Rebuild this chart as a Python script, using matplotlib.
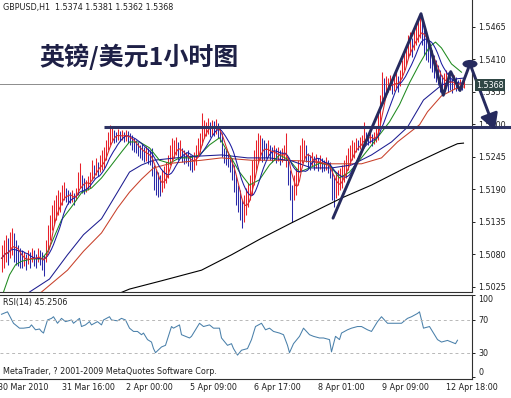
import numpy as np
import pandas as pd
import matplotlib
matplotlib.use('Agg')
import matplotlib.pyplot as plt
from matplotlib.patches import Ellipse
from matplotlib.transforms import blended_transform_factory

# ---------------- data (hourly GBPUSD bars) ----------------
highs = [
    1.5096, 1.5104, 1.5113, 1.5107, 1.5118, 1.5124, 1.5116, 1.5104, 1.5096, 1.5091,
    1.5087, 1.5084, 1.5080, 1.5087, 1.5084, 1.5091, 1.5087, 1.5080, 1.5091, 1.5087,
    1.5084, 1.5079, 1.5104, 1.5129, 1.5146, 1.5163, 1.5172, 1.5180, 1.5189, 1.5185,
    1.5197, 1.5202, 1.5192, 1.5189, 1.5185, 1.5189, 1.5184, 1.5192, 1.5219, 1.5234,
    1.5214, 1.5209, 1.5206, 1.5212, 1.5219, 1.5239, 1.5231, 1.5243, 1.5236, 1.5248,
    1.5256, 1.5261, 1.5273, 1.5287, 1.5299, 1.5295, 1.5290, 1.5287, 1.5292, 1.5289,
    1.5290, 1.5287, 1.5290, 1.5289, 1.5285, 1.5282, 1.5277, 1.5273, 1.5270, 1.5265,
    1.5266, 1.5261, 1.5263, 1.5260, 1.5256, 1.5260, 1.5231, 1.5223, 1.5219, 1.5214,
    1.5223, 1.5229, 1.5236, 1.5248, 1.5265, 1.5277, 1.5273, 1.5278, 1.5270, 1.5273,
    1.5260, 1.5256, 1.5253, 1.5256, 1.5248, 1.5246, 1.5253, 1.5265, 1.5277, 1.5285,
    1.5319, 1.5307, 1.5304, 1.5310, 1.5304, 1.5307, 1.5305, 1.5309, 1.5302, 1.5294,
    1.5285, 1.5260, 1.5256, 1.5253, 1.5248, 1.5243, 1.5231, 1.5214, 1.5197, 1.5189,
    1.5172, 1.5180, 1.5192, 1.5200, 1.5214, 1.5239, 1.5256, 1.5273, 1.5285, 1.5282,
    1.5277, 1.5273, 1.5268, 1.5273, 1.5265, 1.5261, 1.5265, 1.5260, 1.5261, 1.5256,
    1.5260, 1.5265, 1.5285, 1.5245, 1.5223, 1.5197, 1.5214, 1.5226, 1.5239, 1.5265,
    1.5277, 1.5273, 1.5265, 1.5251, 1.5248, 1.5253, 1.5246, 1.5250, 1.5243, 1.5248,
    1.5243, 1.5239, 1.5245, 1.5239, 1.5236, 1.5226, 1.5214, 1.5219, 1.5223, 1.5226,
    1.5231, 1.5239, 1.5248, 1.5260, 1.5265, 1.5273, 1.5270, 1.5277, 1.5273, 1.5278,
    1.5282, 1.5304, 1.5287, 1.5285, 1.5289, 1.5283, 1.5287, 1.5294, 1.5324, 1.5349,
    1.5388, 1.5378, 1.5382, 1.5378, 1.5383, 1.5375, 1.5380, 1.5388, 1.5382, 1.5392,
    1.5409, 1.5422, 1.5434, 1.5451, 1.5456, 1.5446, 1.5463, 1.5468, 1.5476, 1.5485,
    1.5473, 1.5459, 1.5456, 1.5443, 1.5434, 1.5426, 1.5417, 1.5409, 1.5400, 1.5392,
    1.5383, 1.5387, 1.5392, 1.5388, 1.5382, 1.5378, 1.5383, 1.5380, 1.5375, 1.5377,
    1.5373, 1.5381,
]
lows = [
    1.5050, 1.5057, 1.5067, 1.5062, 1.5074, 1.5079, 1.5067, 1.5062, 1.5060, 1.5057,
    1.5057, 1.5060, 1.5053, 1.5063, 1.5057, 1.5067, 1.5060, 1.5057, 1.5067, 1.5062,
    1.5053, 1.5043, 1.5067, 1.5087, 1.5104, 1.5121, 1.5129, 1.5138, 1.5146, 1.5151,
    1.5163, 1.5172, 1.5168, 1.5165, 1.5167, 1.5168, 1.5163, 1.5172, 1.5180, 1.5192,
    1.5184, 1.5182, 1.5185, 1.5189, 1.5192, 1.5206, 1.5209, 1.5214, 1.5212, 1.5219,
    1.5223, 1.5226, 1.5239, 1.5256, 1.5265, 1.5270, 1.5268, 1.5270, 1.5273, 1.5272,
    1.5273, 1.5270, 1.5272, 1.5268, 1.5265, 1.5256, 1.5253, 1.5251, 1.5246, 1.5243,
    1.5239, 1.5236, 1.5238, 1.5233, 1.5231, 1.5212, 1.5189, 1.5180, 1.5177, 1.5178,
    1.5185, 1.5192, 1.5200, 1.5209, 1.5231, 1.5239, 1.5243, 1.5248, 1.5239, 1.5243,
    1.5236, 1.5233, 1.5234, 1.5229, 1.5223, 1.5219, 1.5223, 1.5231, 1.5245, 1.5253,
    1.5265, 1.5277, 1.5280, 1.5283, 1.5278, 1.5282, 1.5280, 1.5283, 1.5277, 1.5270,
    1.5245, 1.5234, 1.5231, 1.5228, 1.5219, 1.5206, 1.5185, 1.5163, 1.5151, 1.5138,
    1.5124, 1.5135, 1.5146, 1.5160, 1.5172, 1.5180, 1.5197, 1.5223, 1.5234, 1.5239,
    1.5236, 1.5239, 1.5243, 1.5245, 1.5239, 1.5236, 1.5239, 1.5234, 1.5238, 1.5231,
    1.5236, 1.5239, 1.5228, 1.5197, 1.5172, 1.5135, 1.5172, 1.5180, 1.5197, 1.5219,
    1.5234, 1.5239, 1.5236, 1.5226, 1.5223, 1.5229, 1.5223, 1.5226, 1.5221, 1.5224,
    1.5219, 1.5221, 1.5223, 1.5217, 1.5209, 1.5172, 1.5160, 1.5175, 1.5180, 1.5189,
    1.5192, 1.5202, 1.5209, 1.5223, 1.5231, 1.5239, 1.5243, 1.5253, 1.5256, 1.5258,
    1.5260, 1.5265, 1.5266, 1.5265, 1.5268, 1.5263, 1.5266, 1.5270, 1.5273, 1.5299,
    1.5341, 1.5344, 1.5351, 1.5355, 1.5358, 1.5351, 1.5356, 1.5361, 1.5355, 1.5365,
    1.5378, 1.5392, 1.5400, 1.5412, 1.5417, 1.5414, 1.5426, 1.5434, 1.5439, 1.5446,
    1.5434, 1.5417, 1.5409, 1.5405, 1.5395, 1.5388, 1.5378, 1.5371, 1.5366, 1.5355,
    1.5349, 1.5358, 1.5361, 1.5355, 1.5358, 1.5353, 1.5360, 1.5356, 1.5358, 1.5360,
    1.5358, 1.5362,
]

# moving averages (bar index, price)
ma_green_bar = [1, 4, 7, 10, 15, 20, 23, 25, 30, 35, 40, 45, 50, 55, 60, 64, 69, 74, 79, 84,
                89, 94, 99, 104, 109, 114, 119, 124, 129, 134, 139, 144, 149, 154, 159, 164,
                169, 174, 179, 184, 189, 194, 199, 204, 209, 214, 217, 220, 225, 230]
ma_green_val = [1.5016, 1.5045, 1.5062, 1.5068, 1.5072, 1.5072, 1.5084, 1.5099, 1.5138, 1.5160,
                1.5184, 1.5192, 1.5209, 1.5231, 1.5253, 1.5270, 1.5270, 1.5260, 1.5239, 1.5234,
                1.5243, 1.5243, 1.5248, 1.5265, 1.5277, 1.5248, 1.5219, 1.5197, 1.5206, 1.5231,
                1.5248, 1.5239, 1.5219, 1.5226, 1.5234, 1.5231, 1.5209, 1.5219, 1.5239, 1.5260,
                1.5282, 1.5304, 1.5333, 1.5370, 1.5402, 1.5431, 1.5439, 1.5429, 1.5402, 1.5388]
ma_slow_blue_bar = [14, 24, 33, 41, 50, 58, 64, 70, 76, 93, 110, 123, 134, 145, 155, 165,
                    175, 185, 195, 203, 211, 220, 228, 231]
ma_slow_blue_val = [1.5016, 1.5038, 1.5079, 1.5113, 1.5140, 1.5185, 1.5219, 1.5231, 1.5239,
                    1.5245, 1.5248, 1.5243, 1.5243, 1.5238, 1.5226, 1.5226, 1.5231, 1.5248,
                    1.5270, 1.5295, 1.5341, 1.5366, 1.5377, 1.5378]
ma_slow_red_bar = [20, 33, 41, 50, 58, 64, 70, 76, 85, 100, 110, 125, 140, 150, 165, 180,
                   190, 198, 209, 213, 220, 227, 231]
ma_slow_red_val = [1.5016, 1.5053, 1.5085, 1.5116, 1.5158, 1.5185, 1.5207, 1.5226, 1.5234,
                   1.5239, 1.5243, 1.5239, 1.5239, 1.5238, 1.5233, 1.5233, 1.5243, 1.5270,
                   1.5299, 1.5321, 1.5348, 1.5360, 1.5363]
ma_black_bar = [59, 64, 80, 100, 115, 130, 145, 161, 170, 185, 203, 220, 228, 231]
ma_black_val = [1.5014, 1.5021, 1.5035, 1.5053, 1.5079, 1.5107, 1.5133, 1.5160, 1.5175,
                1.5197, 1.5228, 1.5255, 1.5267, 1.5268]

# RSI(14)
rsi_bar = [0, 3, 6, 9, 11, 14, 15, 17, 19, 20,
           21, 23, 25, 26, 28, 30, 32, 35, 36, 39,
           40, 42, 44, 45, 48, 50, 51, 54, 55, 58,
           60, 62, 64, 66, 68, 70, 71, 73, 75, 76,
           77, 80, 82, 85, 86, 89, 90, 92, 94, 95,
           97, 99, 101, 104, 106, 109, 110, 113, 115, 116,
           118, 120, 123, 125, 127, 130, 132, 134, 136, 139,
           141, 143, 144, 146, 149, 151, 154, 156, 159, 161,
           164, 165, 167, 169, 170, 173, 175, 178, 180, 183,
           185, 188, 190, 193, 195, 198, 200, 203, 205, 208,
           209, 211, 214, 216, 218, 220, 223, 225, 227, 228]
rsi_val = [77, 80, 66, 60, 60, 61, 64, 58, 59, 56,
           54, 70, 72, 74, 66, 72, 68, 70, 66, 72,
           62, 64, 68, 64, 68, 64, 70, 74, 70, 69,
           72, 70, 60, 56, 56, 52, 54, 46, 43, 35,
           30, 37, 39, 62, 60, 64, 52, 50, 48, 50,
           58, 66, 62, 64, 60, 60, 48, 39, 41, 35,
           27, 33, 35, 46, 62, 66, 58, 60, 56, 54,
           52, 39, 30, 41, 50, 60, 52, 50, 48, 48,
           46, 31, 50, 46, 54, 58, 60, 62, 62, 58,
           56, 68, 74, 66, 66, 66, 66, 72, 74, 78,
           80, 60, 62, 54, 46, 43, 45, 43, 41, 45.2506]

price_ticks = [1.5025, 1.5080, 1.5135, 1.5190, 1.5245, 1.5300, 1.5355, 1.5410, 1.5465]
rsi_ticks = [0, 30, 70, 100]
time_tick_bars = [-1, 31, 63, 95, 127, 159, 191, 223]
time_tick_labels = ['30 Mar 2010', '31 Mar 16:00', '2 Apr 00:00', '5 Apr 09:00',
                    '6 Apr 17:00', '8 Apr 01:00', '9 Apr 09:00', '12 Apr 18:00']
header_ohlc = [1.5374, 1.5381, 1.5362, 1.5368]
last_price = 1.5368
rsi_last = 45.2506
support_level = 1.5295
# hand-drawn pattern annotation (bar index, price)
pattern_bar = [165.75, 209.75, 220.9, 224.6, 229.25, 234.25]
pattern_val = [1.5141, 1.5487, 1.5349, 1.5389, 1.5357, 1.5402]
arrow_tip = (246.75, 1.5290)
support_span = (51.25, 254.75)

# ---------------- figure ----------------
plt.rcParams['font.family'] = ['DejaVu Sans']
W, H = 511, 398
fig = plt.figure(figsize=(W / 100, H / 100), dpi=100)
fig.patch.set_facecolor('white')

def fx(px):
    return px / W

def fy(py):
    return 1 - py / H

ax = fig.add_axes([0, fy(291.5), fx(472), fy(0) - fy(291.5)])
ax2 = fig.add_axes([0, fy(378.5), fx(472), fy(294.5) - fy(378.5)])

small = 5.8
navy = '#262a5e'

n = min(len(highs), len(lows))
hi = np.array(highs[:n])
lo = np.array(lows[:n])
xb = np.arange(n)
mid = (hi + lo) / 2
up = np.concatenate([[True], mid[1:] >= mid[:-1]])
cols = np.where(up, '#e8202a', '#2a2aa8')
ax.vlines(xb, lo, hi, colors=cols, linewidth=0.75, zorder=2)

ser = pd.Series(mid)
ma_fast_red = ser.rolling(5, min_periods=1).mean()
ma_fast_blue = ser.rolling(10, min_periods=1).mean()

ax.plot(ma_black_bar, ma_black_val, color='black', lw=0.8, zorder=3)
ax.plot(ma_slow_red_bar, ma_slow_red_val, color='#c8402a', lw=0.75, zorder=3)
ax.plot(ma_slow_blue_bar, ma_slow_blue_val, color='#1c1c90', lw=0.75, zorder=3)
ax.plot(ma_green_bar, ma_green_val, color='#1f8a1f', lw=0.75, zorder=3)
ax.plot(xb, ma_fast_blue, color='#1a1aa0', lw=0.75, zorder=3)
ax.plot(xb, ma_fast_red, color='#d82a2a', lw=0.75, zorder=3)

ax.axhline(last_price, color='#8c8c8c', lw=0.7, zorder=1)

ax.set_xlim(-0.75, 235.25)
ax.set_ylim(1.50169, 1.55102)
ax.set_xticks([])
ax.yaxis.tick_right()
ax.set_yticks(price_ticks)
ax.set_yticklabels([f'{v:.4f}' for v in price_ticks])
ax.tick_params(axis='y', direction='out', length=2.5, width=0.7, pad=2,
               labelsize=small, colors='#202020')
for s in ['top', 'left']:
    ax.spines[s].set_visible(False)
for s in ['right', 'bottom']:
    ax.spines[s].set_color('#303030')
    ax.spines[s].set_linewidth(0.8)

# annotations
ax.plot(support_span, [support_level, support_level], color='#2d3263', lw=2.2,
        clip_on=False, zorder=5, solid_capstyle='butt')
ax.plot(pattern_bar, pattern_val, color=navy, lw=2.1, clip_on=False, zorder=5,
        solid_joinstyle='round', solid_capstyle='round')
ell = Ellipse((pattern_bar[-1], pattern_val[-1]), width=7.5, height=0.00135,
              facecolor=navy, edgecolor='none', zorder=6, clip_on=False)
ax.add_patch(ell)
ann = ax.annotate('', xy=arrow_tip, xytext=(pattern_bar[-1], pattern_val[-1]),
                  arrowprops=dict(arrowstyle='-|>,head_length=0.8,head_width=0.45',
                                  lw=2.1, color=navy, mutation_scale=12,
                                  shrinkA=0, shrinkB=0),
                  annotation_clip=False, zorder=6)
ann.arrow_patch.set_clip_on(False)

# current price box
fig.text(fx(476), fy(85), f'{last_price:.4f}', color='white', fontsize=small,
         ha='left', va='center',
         bbox=dict(boxstyle='square,pad=0.18', facecolor='#2f4644', edgecolor='none'))

# header & title
fig.text(fx(3), fy(7.5), 'GBPUSD,H1  ' + ' '.join(f'{v:.4f}' for v in header_ohlc),
         fontsize=small, color='#202020', ha='left', va='center')
fig.text(fx(39), fy(57), '英镑/美元1小时图', fontsize=18, fontweight='bold',
         color='#1e2046', family=['Noto Sans CJK SC', 'DejaVu Sans'],
         ha='left', va='center')

# ---------------- RSI panel ----------------
ax2.plot(rsi_bar, rsi_val, color='#4a80aa', lw=0.75)
ax2.axhline(70, color='#b8b8b8', lw=0.7, ls=(0, (3, 3)))
ax2.axhline(30, color='#b8b8b8', lw=0.7, ls=(0, (3, 3)))
ax2.set_xlim(-0.75, 235.25)
ax2.set_ylim(-1.6, 101.2)
ax2.set_xticks([])
ax2.yaxis.tick_right()
ax2.set_yticks(rsi_ticks)
ax2.set_yticklabels([str(v) for v in rsi_ticks])
ax2.tick_params(axis='y', direction='out', length=2.5, width=0.7, pad=2,
                labelsize=small, colors='#202020')
labs = ax2.get_yticklabels()
labs[0].set_va('bottom')
labs[-1].set_va('top')
ax2.spines['left'].set_visible(False)
for s in ['top', 'right', 'bottom']:
    ax2.spines[s].set_color('#303030')
    ax2.spines[s].set_linewidth(0.8)

ax2.text(0.006, 0.9, f'RSI(14) {rsi_last:.4f}', transform=ax2.transAxes,
         fontsize=small, color='#202020', ha='left', va='center')
ax2.text(0.006, 0.08, 'MetaTrader, ? 2001-2009 MetaQuotes Software Corp.',
         transform=ax2.transAxes, fontsize=small, color='#202020',
         ha='left', va='center')

tr = blended_transform_factory(ax2.transData, ax2.transAxes)
for b, lab in zip(time_tick_bars, time_tick_labels):
    ax2.text(b - 0.5, -0.113, lab, transform=tr, fontsize=small, color='#202020',
             ha='left', va='center', clip_on=False)

fig.savefig('out.png', dpi=100, facecolor='white')
